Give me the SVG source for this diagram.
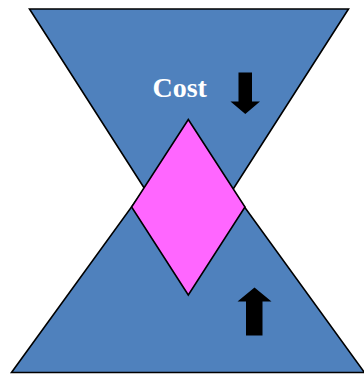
<svg xmlns="http://www.w3.org/2000/svg" width="364" height="374" viewBox="0 0 364 374">
  <style>
    .tri { fill: #4F81BD; stroke: #000; stroke-width: 1.6; stroke-linejoin: miter; }
    .dia { fill: #FF66FF; stroke: #000; stroke-width: 1.6; }
    .arrow { fill: #000; stroke: none; }
    .label { font-family: "Liberation Serif", "Times New Roman", serif; font-weight: bold; font-size: 28px; fill: #fff; }
  </style>
  <rect width="364" height="374" fill="#fff"/>
  <g id="top-triangle">
    <polygon class="tri" points="29.5,9 348.5,9 189,258"/>
  </g>
  <g id="bottom-triangle">
    <polygon class="tri" points="188,129 364.5,372.5 11.5,372.5"/>
  </g>
  <g id="diamond">
    <polygon class="dia" points="188.3,119.5 245,207 188.3,295 131.6,207"/>
  </g>
  <g id="cost-label">
    <text class="label" x="152.5" y="97">Cost</text>
  </g>
  <g id="down-arrow">
    <polygon class="arrow" points="238.5,72.5 252,72.5 252,101.5 260,101.5 245.3,114 230.5,101.5 238.5,101.5"/>
  </g>
  <g id="up-arrow">
    <polygon class="arrow" points="254.5,287.5 271.5,301.5 262.5,301.5 262.5,335.5 246,335.5 246,301.5 237.5,301.5"/>
  </g>
  <g id="connectors"/>
</svg>
